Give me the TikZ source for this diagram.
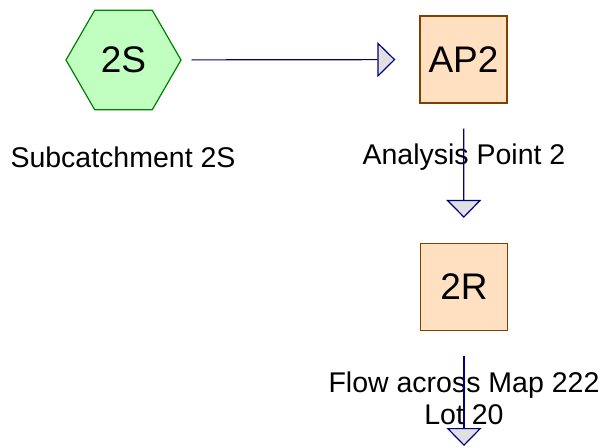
\documentclass[tikz,border=0pt]{standalone}
\usepackage{fontspec}
\setmainfont{Liberation Sans}
\usetikzlibrary{shapes.geometric,arrows.meta}
\definecolor{subfill}{RGB}{192,255,192}
\definecolor{subline}{RGB}{0,128,0}
\definecolor{pondfill}{RGB}{255,224,192}
\definecolor{pondline}{RGB}{128,64,0}
\definecolor{linkline}{RGB}{0,0,128}
\definecolor{tipfill}{RGB}{224,224,224}
\tikzset{
  subcat/.style={regular polygon, regular polygon sides=6,
    minimum size=115pt, inner sep=0pt, draw=subline, fill=subfill, line width=1.2pt,
    font=\fontsize{37}{40}\selectfont},
  pondbox/.style={rectangle, minimum size=87pt, inner sep=0pt, draw=pondline,
    fill=pondfill, line width=1.2pt, font=\fontsize{37}{40}\selectfont},
  lbl/.style={font=\fontsize{28.5}{32}\selectfont, align=center},
  link/.style={draw=linkline, line width=1.2pt,
    -{Triangle[length=18pt,width=35pt,fill=tipfill,line width=1.2pt]}}
}
\begin{document}
\begin{tikzpicture}[x=1pt,y=-1pt]
      \useasboundingbox (0,0) rectangle (604,447);
      \node[subcat] (2S) at (123.5,60) {2S};
      \node[pondbox] (AP2) at (463.5,59.5) {AP2};
      \node[pondbox] (2R) at (464,287) {2R};
      \node[lbl] (l2S) at (123,157) {Subcatchment 2S};
      \node[lbl] (lAP2) at (464,157) {Analysis Point 2};
      \node[lbl] (l2R) at (464,398) {Flow across Map 222\\Lot 20};
      \coordinate (out) at (464,446);
      \begin{scope}[link]
        \draw[shorten <=10pt, shorten >=24pt] (2S) to (AP2);
        \draw[shorten <=25pt, shorten >=25pt] (AP2) to (2R);
        \draw[shorten <=25pt] (2R.south) to (out);
      \end{scope}
    \end{tikzpicture}
\end{document}
